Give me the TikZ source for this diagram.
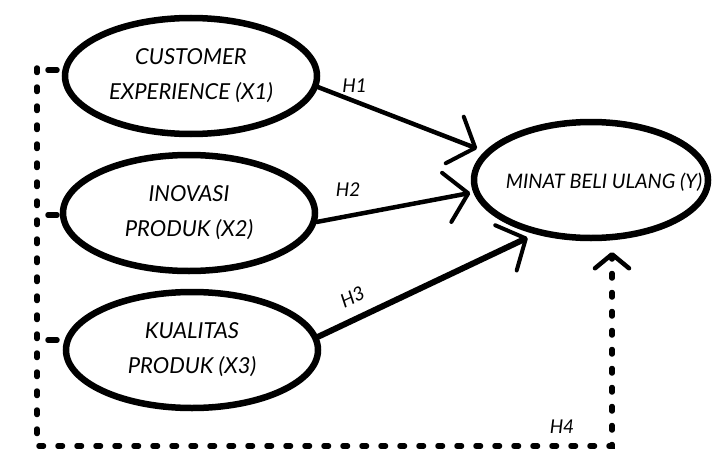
\documentclass[tikz,border=0pt]{standalone}
\usepackage{fontspec}
\setmainfont{Lato}
\usetikzlibrary{arrows.meta,shapes.geometric,calc}
\begin{document}
\begin{tikzpicture}[x=1pt,y=-1pt,
  ell/.style={ellipse,draw,line width=6.5pt,inner sep=0pt,align=center,
    font=\itshape\fontsize{22}{35}\selectfont},
  arr/.style={line width=4.5pt,line cap=round,
    -{Straight Barb[length=22pt,width=50pt,line width=4pt,round]}},
  dotline/.style={line width=5.5pt,line cap=round,dash pattern=on 4.5pt off 14.5pt},
  lbl/.style={font=\itshape\fontsize{19}{19}\selectfont}]
\useasboundingbox (0,0) rectangle (712,452);
\node[ell,minimum width=252pt,minimum height=116pt] (x1) at (191,76) {CUSTOMER\\EXPERIENCE (X1)};
\node[ell,minimum width=252pt,minimum height=116pt] (x2) at (189,213) {INOVASI\\PRODUK (X2)};
\node[ell,minimum width=252pt,minimum height=116pt] (x3) at (192,350) {KUALITAS\\PRODUK (X3)};
\node[ell,minimum width=234pt,minimum height=116pt] (y) at (591,180) {};
\node[font=\itshape\fontsize{20}{22}\selectfont,inner sep=0pt] (yt) at (604,182) {MINAT BELI ULANG (Y)};
\draw[arr,shorten >=8pt] (x1.-5) -- node[lbl,pos=0.22,above=3pt] {H1} (y.165);
\draw[arr,shorten >=3pt] (x2.-4) -- node[lbl,pos=0.2,above=14pt] {H2} (y.186);
\draw[arr,line width=6pt,shorten >=8pt] (x3.6) -- node[lbl,pos=0.2,above=8pt,sloped] {H3} (y.224);
\coordinate (c1) at (37,68);
\coordinate (c2) at (37,446);
\coordinate (c3) at (612,446);
\coordinate (c4) at (612,252);
\draw[dotline,-{Straight Barb[length=14pt,width=34pt,line width=4.5pt,round]}] (c1) -- (c2) -- (c3) -- (c4);
\node[lbl] (h4) at (562,427) {H4};
\foreach \yy/\n in {70/x1,215/x2,340/x3}{
  \draw[line width=5.5pt,line cap=round] (48,\yy) -- (57,\yy);
}
\end{tikzpicture}
\end{document}
